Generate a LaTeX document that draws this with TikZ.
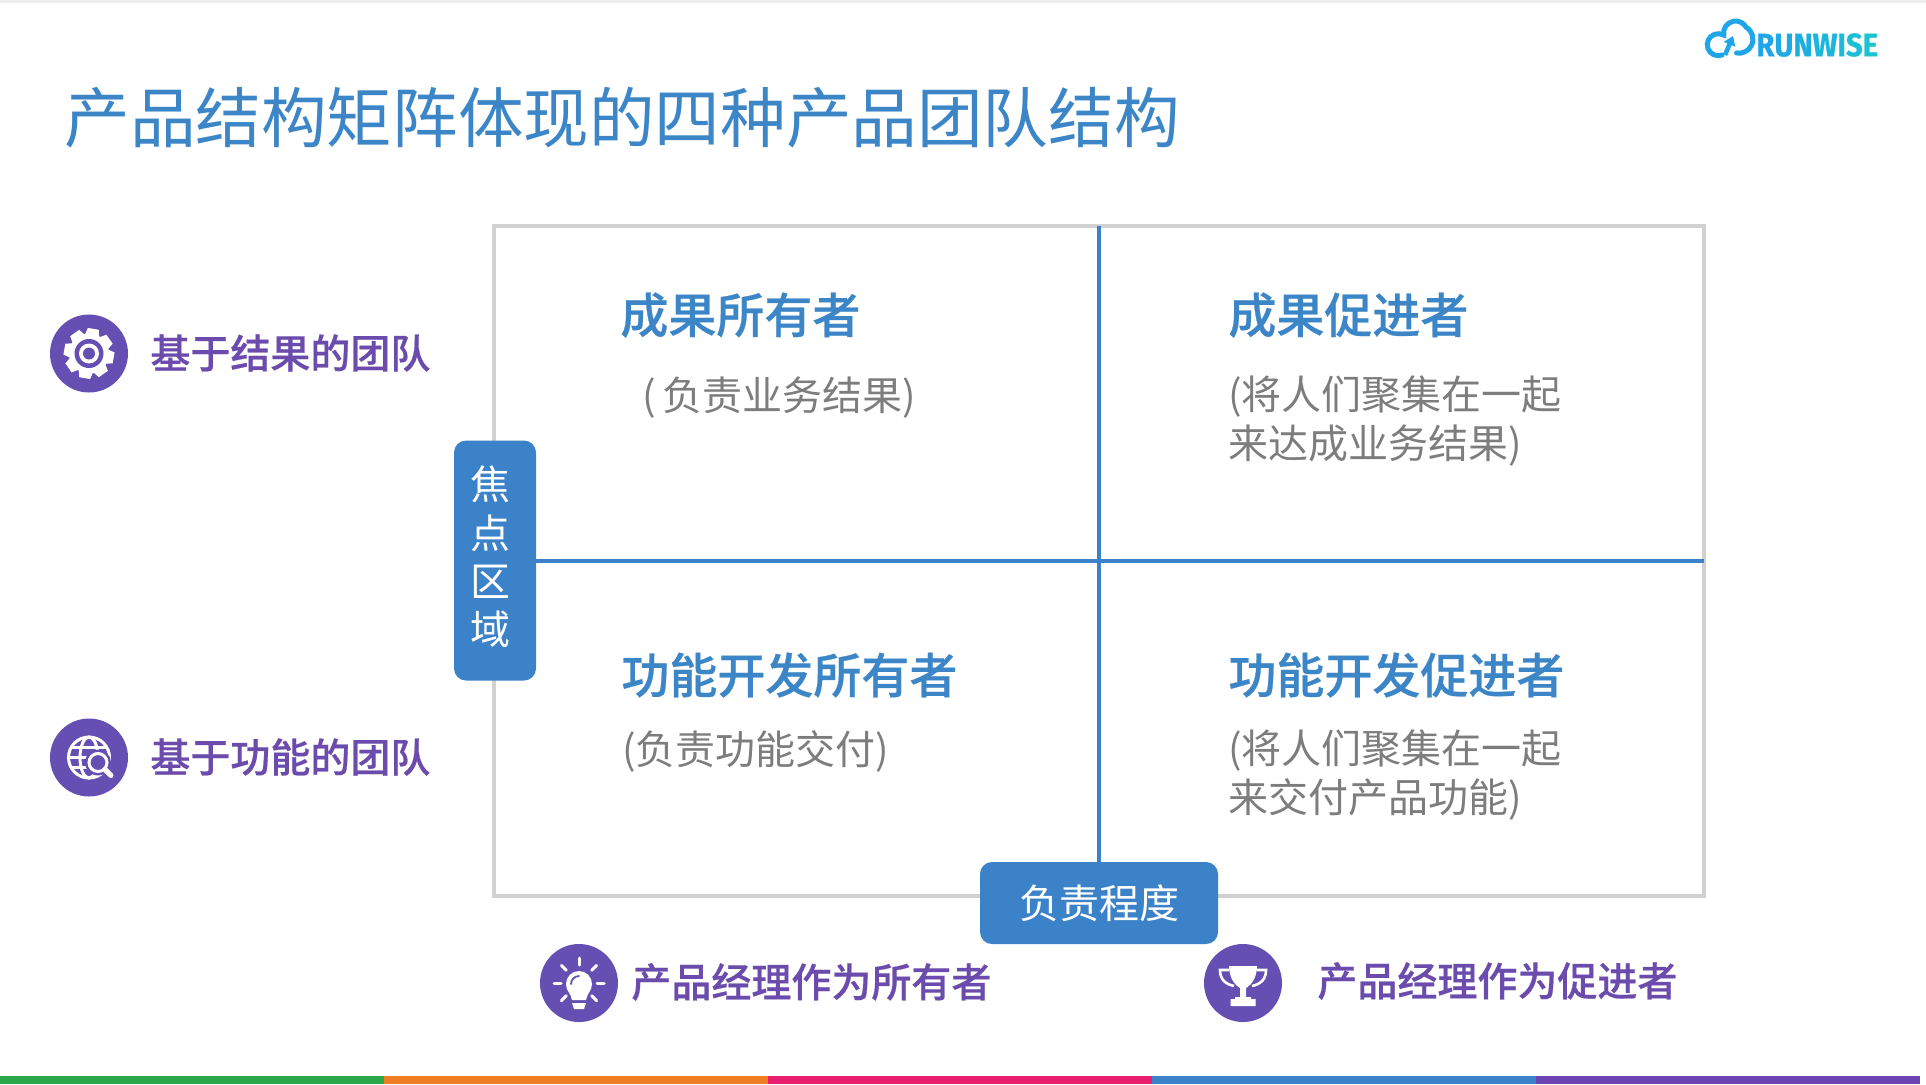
\documentclass[tikz,border=0pt]{standalone}
\usepackage{fontspec}
\setmainfont{Noto Sans CJK SC}
\newfontfamily\cjkmedium[FakeBold=0.5]{Noto Sans CJK SC Medium}
\newfontfamily\logofont[FakeStretch=0.9,FakeBold=0.8]{Fira Sans}
\usetikzlibrary{arrows.meta}
\newlength{\du}
\setlength{\du}{0.5pt}
\definecolor{titleblue}{rgb}{0.235000, 0.525000, 0.780000}
\definecolor{boxblue}{rgb}{0.231000, 0.510000, 0.788000}
\definecolor{framegray}{rgb}{0.820000, 0.820000, 0.820000}
\definecolor{notegray}{rgb}{0.490000, 0.490000, 0.490000}
\definecolor{iconpurple}{rgb}{0.400000, 0.310000, 0.700000}
\definecolor{textpurple}{rgb}{0.420000, 0.300000, 0.680000}
\definecolor{logoblue}{rgb}{0.120000, 0.650000, 0.910000}
\definecolor{logoteal}{rgb}{0.100000, 0.770000, 0.810000}
\tikzset{
  textlabel/.style={anchor=west,inner sep=0pt,align=left},
  headlabel/.style={textlabel,text=titleblue,font=\cjkmedium\fontsize{24}{29}\selectfont},
  notelabel/.style={textlabel,text=notegray,font=\fontsize{20}{24.5}\selectfont},
  teamlabel/.style={textlabel,text=textpurple,font=\cjkmedium\fontsize{20}{24}\selectfont},
  bluebox/.style={fill=boxblue,rounded corners=6pt,inner sep=0pt,text=white,font=\fontsize{20}{24}\selectfont},
  iconcircle/.style={circle,fill=iconpurple,minimum size=78\du,inner sep=0pt},
  iconline/.style={draw=white,line width=3\du,line cap=round}
}
\begin{document}
\begin{tikzpicture}[x=1\du,y=1\du]
\pgftransformyscale{-1.000000}
\useasboundingbox (0.000000\du,0.000000\du) rectangle (1926.000000\du,1084.000000\du);
\fill[white] (0.000000\du,0.000000\du) rectangle (1926.000000\du,1084.000000\du);
\fill[black!7] (0.000000\du,0.000000\du) rectangle (1926.000000\du,3.000000\du);
% bottom stripe
\foreach \stripex/\stripecolor in {0/{rgb,255:red,44;green,168;blue,74},384/{rgb,255:red,240;green,125;blue,35},768/{rgb,255:red,233;green,30;blue,110},1152/{rgb,255:red,60;green,130;blue,200},1536/{rgb,255:red,110;green,70;blue,180}}
  \fill[color=\stripecolor] (\stripex,1076) rectangle ++(384,8);
% title
\node[textlabel,text=titleblue,font=\fontsize{32.8}{36}\selectfont] (title) at (64.000000\du,118.000000\du){产品结构矩阵体现的四种产品团队结构};
% logo
\draw[logoblue,line width=5\du,line cap=round] (1722.000000\du,55.000000\du) arc[start angle=70,end angle=300,radius=11\du] arc[start angle=170,end angle=330,radius=12\du] arc[start angle=-60,end angle=100,radius=14\du];
\draw[logoblue,line width=4.6\du,-{Triangle[width=6pt,length=4.5pt]}] (1725.000000\du,55.000000\du)--(1733.000000\du,36.000000\du);
\node[textlabel,font=\logofont\bfseries\fontsize{16.2}{18}\selectfont] (logo) at (1756.000000\du,45.000000\du){\textcolor{logoblue}{R}\textcolor{logoteal!15!logoblue}{U}\textcolor{logoteal!30!logoblue}{N}\textcolor{logoteal!50!logoblue}{W}\textcolor{logoteal!65!logoblue}{I}\textcolor{logoteal!80!logoblue}{S}\textcolor{logoteal}{E}};
% matrix
\node[draw=framegray,line width=4\du,minimum width=1210\du,minimum height=670\du,inner sep=0pt] (frame) at (1099.000000\du,560.500000\du){};
\node[bluebox,minimum width=82\du,minimum height=240\du] (focusbox) at (495.000000\du,560.500000\du){};
\node[bluebox,minimum width=238\du,minimum height=82\du] (dutybox) at (1099.000000\du,903.000000\du){负责程度};
\node[inner sep=0pt,align=center,text=white,font=\fontsize{20}{24.2}\selectfont] (focustext) at (490.000000\du,557.000000\du){焦\\点\\区\\域};
\draw[boxblue,line width=4\du,shorten >=2\du] (focusbox.east)--(frame.east);
\draw[boxblue,line width=4\du,shorten <=2\du] (frame.north)--(dutybox.north);
% quadrants
\node[headlabel] (ownerhead) at (620.000000\du,315.000000\du){成果所有者};
\node[notelabel] (ownernote) at (642.000000\du,398.000000\du){(\,负责业务结果)};
\node[headlabel] (helperhead) at (1228.000000\du,315.000000\du){成果促进者};
\node[notelabel,anchor=north west] (helpernote) at (1228.000000\du,375.000000\du){(将人们聚集在一起\\来达成业务结果)};
\node[headlabel] (featurehead) at (621.000000\du,675.000000\du){功能开发所有者};
\node[notelabel] (featurenote) at (622.000000\du,751.500000\du){(负责功能交付)};
\node[headlabel] (featurehelphead) at (1228.000000\du,675.000000\du){功能开发促进者};
\node[notelabel,anchor=north west] (featurehelpnote) at (1228.000000\du,729.000000\du){(将人们聚集在一起\\来交付产品功能)};
% side labels
\node[iconcircle] (gearicon) at (89.000000\du,353.500000\du){};
\node[teamlabel] (resultteam) at (150.000000\du,353.000000\du){基于结果的团队};
\node[iconcircle] (globeicon) at (89.000000\du,757.500000\du){};
\node[teamlabel] (featureteam) at (150.000000\du,757.000000\du){基于功能的团队};
\node[iconcircle] (bulbicon) at (579.000000\du,983.000000\du){};
\node[teamlabel] (ownerpm) at (631.000000\du,982.000000\du){产品经理作为所有者};
\node[iconcircle] (trophyicon) at (1243.000000\du,983.000000\du){};
\node[teamlabel] (helperpm) at (1317.000000\du,981.000000\du){产品经理作为促进者};
% gear
\begin{scope}[shift={(gearicon.center)}]
\fill[white] (0,0) circle (20);
\foreach \toothangle in {10,55,...,325}
  \fill[white,rotate=\toothangle] (-5.5,-25)--(5.5,-25)--(7.5,-17)--(-7.5,-17)--cycle;
\fill[iconpurple] (0,0) circle (14.5);
\fill[white] (0,0) circle (10);
\fill[iconpurple] (0,0) circle (6);
\end{scope}
% globe
\begin{scope}[shift={(globeicon.center)}]
\draw[iconline] (0,0) circle (20.5);
\draw[iconline] (0,0) ellipse (9 and 20.5);
\draw[iconline] (-20.5,0)--(20.5,0);
\draw[iconline] (-17,-10)--(17,-10);
\draw[iconline] (-17,10)--(17,10);
\fill[iconpurple] (9,5) circle (13);
\draw[white,line width=3\du] (9,5) circle (9);
\draw[white,line width=5\du,line cap=round] (16,12)--(22,18);
\end{scope}
% bulb
\begin{scope}[shift={(bulbicon.center)}]
\fill[white] (-13,1) arc[start angle=180,end angle=360,radius=13] .. controls (13,8) and (8,10) .. (7,17)--(-7,17) .. controls (-8,10) and (-13,8) .. (-13,1)--cycle;
\fill[white] (-7,20)--(7,20)--(5,26)--(-5,26)--cycle;
\draw[iconpurple,line width=1.8\du,line cap=round] (-8,1) arc[start angle=180,end angle=270,radius=8];
\foreach \rayangle in {0,180,270,225,315,45,135}
  \draw[iconline] (\rayangle:18)--(\rayangle:25);
\end{scope}
% trophy
\begin{scope}[shift={(trophyicon.center)}]
\fill[white] (-14,-17) -- (14,-17) .. controls (14,-5) and (8,2) .. (3,5) -- (3,14) -- (8,14) -- (8,16) -- (12.500000,16) -- (12.500000,23) -- (-12.500000,23) -- (-12.500000,16) -- (-8,16) -- (-8,14) -- (-3,14) -- (-3,5) .. controls (-8,2) and (-14,-5) .. (-14,-17) -- cycle;
\draw[white,line width=2.6\du] (-14,-13) -- (-23,-13) .. controls (-23,-4) and (-18,1) .. (-9,3);
\draw[white,line width=2.6\du] (14,-13) -- (23,-13) .. controls (23,-4) and (18,1) .. (9,3);
\end{scope}
\end{tikzpicture}
\end{document}
